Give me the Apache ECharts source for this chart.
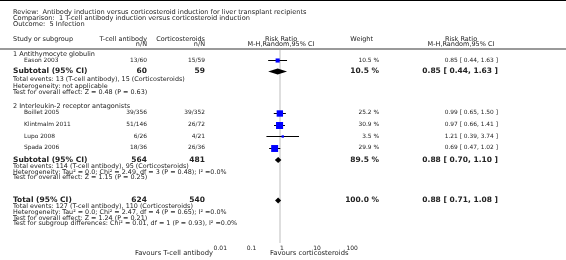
<!DOCTYPE html>
<html>
<head>
<meta charset="utf-8">
<script src="https://cdn.jsdelivr.net/npm/echarts@6/dist/echarts.min.js"></script>
<style>
  html, body { margin: 0; padding: 0; background: #fff; }
  #chart { width: 566px; height: 260px; }
</style>
</head>
<body>
<div id="chart"></div>
<script>
// data
const titleLines = [
  'Review:  Antibody induction versus corticosteroid induction for liver transplant recipients',
  'Comparison:  1 T-cell antibody induction versus corticosteroid induction',
  'Outcome:  5 Infection'
]
const groupNames = ['1 Antithymocyte globulin', '2 Interleukin-2 receptor antagonists']
const studies = ['Eason 2003', 'Boillet 2005', 'Klintmalm 2011', 'Lupo 2008', 'Spada 2006']
const tcellEvents = [13, 39, 51, 6, 18]
const tcellTotal = [60, 356, 146, 26, 36]
const corticoEvents = [15, 39, 26, 4, 26]
const corticoTotal = [59, 352, 72, 21, 36]
const studyWeight = [10.5, 25.2, 30.9, 3.5, 29.9]
const studyRR = [0.85, 0.99, 0.97, 1.21, 0.69]
const studyLow = [0.44, 0.65, 0.66, 0.39, 0.47]
const studyHigh = [1.63, 1.50, 1.41, 3.74, 1.02]

const subTcellN = [60, 564]
const subCorticoN = [59, 481]
const subTcellEvents = [13, 114]
const subCorticoEvents = [15, 95]
const subWeight = [10.5, 89.5]
const subRR = [0.85, 0.88]
const subLow = [0.44, 0.70]
const subHigh = [1.63, 1.10]
const subHetero = [
  'Heterogeneity: not applicable',
  'Heterogeneity: Tau\u00b2 = 0.0; Chi\u00b2 = 2.49, df = 3 (P = 0.48); I\u00b2 =0.0%'
]
const subTest = [
  'Test for overall effect: Z = 0.48 (P = 0.63)',
  'Test for overall effect: Z = 1.15 (P = 0.25)'
]

const totalTcellN = 624
const totalCorticoN = 540
const totalTcellEvents = 127
const totalCorticoEvents = 110
const totalWeight = 100.0
const totalRR = 0.88
const totalLow = 0.71
const totalHigh = 1.08
const totalHetero = 'Heterogeneity: Tau\u00b2 = 0.0; Chi\u00b2 = 2.47, df = 4 (P = 0.65); I\u00b2 =0.0%'
const totalTest = 'Test for overall effect: Z = 1.24 (P = 0.21)'
const subgroupTest = 'Test for subgroup differences: Chi\u00b2 = 0.01, df = 1 (P = 0.93), I\u00b2 =0.0%'

const axisTicks = [0.01, 0.1, 1, 10, 100]
const favoursLeft = 'Favours T-cell antibody'
const favoursRight = 'Favours corticosteroids'

// layout (pixel rows / columns)
const Y = {
  title: [12.5, 18, 24],
  head: [39, 44.5],
  sep: 49,
  group: [54, 106.5],
  study: [60, 112.5, 124.5, 136, 147.5],
  sub: [71.5, 160],
  subStats: [[79, 86, 92.5], [166.5, 172, 177.5]],
  total: 200.5,
  totalStats: [206.5, 212, 218, 223.5],
  axis: 243,
  favours: 253
}
const X = { left: 13, study: 24, tcell: 147, cortico: 205, plot: 281, weight: 379, ci: 498 }
const DECADE = 33.2
const ONE_X = 280

const FONT = '"DejaVu Sans", Verdana, sans-serif'
const INK = '#222'
const F = { title: 6.6, head: 6.5, row: 5.9, stats: 6.4, bold: 7.5, favours: 6.8, tick: 6 }

const graphics = []
function txt(x, y, s, size, align, bold) {
  graphics.push({
    type: 'text', x: x, y: y, silent: true,
    style: {
      text: s, fill: INK,
      font: (bold ? 'bold ' : '') + size + 'px ' + FONT,
      textAlign: align || 'left', textVerticalAlign: 'middle'
    }
  })
}
const ciText = (r, l, h) => r.toFixed(2) + ' [ ' + l.toFixed(2) + ', ' + h.toFixed(2) + ' ]'

titleLines.forEach((t, i) => txt(X.left, Y.title[i], t, F.title))

txt(X.left, Y.head[0], 'Study or subgroup', F.head)
txt(X.tcell, Y.head[0], 'T-cell antibody', F.head, 'right')
txt(X.tcell, Y.head[1], 'n/N', F.head, 'right')
txt(X.cortico, Y.head[0], 'Corticosteroids', F.head, 'right')
txt(X.cortico, Y.head[1], 'n/N', F.head, 'right')
txt(X.plot, Y.head[0], 'Risk Ratio', F.head, 'center')
txt(X.plot, Y.head[1], 'M-H,Random,95% CI', F.head, 'center')
txt(X.weight - 6, Y.head[0], 'Weight', F.head, 'right')
txt(461, Y.head[0], 'Risk Ratio', F.head, 'center')
txt(461, Y.head[1], 'M-H,Random,95% CI', F.head, 'center')

graphics.push({
  type: 'line', silent: true,
  shape: { x1: 0, y1: Y.sep, x2: 566, y2: Y.sep },
  style: { stroke: '#9a9a9a', lineWidth: 2 }
})

groupNames.forEach((g, gi) => {
  txt(X.left, Y.group[gi], g, F.head)
  txt(X.left, Y.sub[gi], 'Subtotal (95% CI)', F.bold, 'left', true)
  txt(X.tcell, Y.sub[gi], String(subTcellN[gi]), F.bold, 'right', true)
  txt(X.cortico, Y.sub[gi], String(subCorticoN[gi]), F.bold, 'right', true)
  txt(X.weight, Y.sub[gi], subWeight[gi].toFixed(1) + ' %', F.bold, 'right', true)
  txt(X.ci, Y.sub[gi], ciText(subRR[gi], subLow[gi], subHigh[gi]), F.bold, 'right', true)
  txt(X.left, Y.subStats[gi][0], 'Total events: ' + subTcellEvents[gi] + ' (T-cell antibody), ' + subCorticoEvents[gi] + ' (Corticosteroids)', F.stats)
  txt(X.left, Y.subStats[gi][1], subHetero[gi], F.stats)
  txt(X.left, Y.subStats[gi][2], subTest[gi], F.stats)
})

studies.forEach((s, i) => {
  const y = Y.study[i]
  txt(X.study, y, s, F.row)
  txt(X.tcell, y, tcellEvents[i] + '/' + tcellTotal[i], F.row, 'right')
  txt(X.cortico, y, corticoEvents[i] + '/' + corticoTotal[i], F.row, 'right')
  txt(X.weight, y, studyWeight[i].toFixed(1) + ' %', F.row, 'right')
  txt(X.ci, y, ciText(studyRR[i], studyLow[i], studyHigh[i]), F.row, 'right')
})

txt(X.left, Y.total, 'Total (95% CI)', F.bold, 'left', true)
txt(X.tcell, Y.total, String(totalTcellN), F.bold, 'right', true)
txt(X.cortico, Y.total, String(totalCorticoN), F.bold, 'right', true)
txt(X.weight, Y.total, totalWeight.toFixed(1) + ' %', F.bold, 'right', true)
txt(X.ci, Y.total, ciText(totalRR, totalLow, totalHigh), F.bold, 'right', true)
txt(X.left, Y.totalStats[0], 'Total events: ' + totalTcellEvents + ' (T-cell antibody), ' + totalCorticoEvents + ' (Corticosteroids)', F.stats)
txt(X.left, Y.totalStats[1], totalHetero, F.stats)
txt(X.left, Y.totalStats[2], totalTest, F.stats)
txt(X.left, Y.totalStats[3], subgroupTest, F.stats)

txt(213, Y.favours, favoursLeft, F.favours, 'right')
txt(270, Y.favours, favoursRight, F.favours, 'left')

// series data built from the arrays
const studyData = studies.map((s, i) => [
  Math.log10(studyRR[i]), Math.log10(studyLow[i]), Math.log10(studyHigh[i]), Y.study[i], studyWeight[i]
])
const diamondData = subRR.map((r, i) => [
  Math.log10(r), Math.log10(subLow[i]), Math.log10(subHigh[i]), Y.sub[i]
]).concat([[Math.log10(totalRR), Math.log10(totalLow), Math.log10(totalHigh), Y.total]])

const px = v => Math.round(v) + 0.5

const chart = echarts.init(document.getElementById('chart'), null, { renderer: 'canvas' })
chart.setOption({
  animation: false,
  textStyle: { fontFamily: FONT },
  grid: { left: 0, right: 0, top: 0, bottom: 260 - Y.axis, containLabel: false, outerBoundsMode: 'none' },
  xAxis: {
    type: 'value',
    min: -ONE_X / DECADE,
    max: (566 - ONE_X) / DECADE,
    splitLine: { show: false },
    axisLine: { lineStyle: { color: '#000', width: 1 } },
    axisTick: {
      inside: true, length: 3,
      customValues: axisTicks.map(Math.log10),
      lineStyle: { color: '#000' }
    },
    axisLabel: {
      customValues: axisTicks.map(Math.log10),
      formatter: v => String(Math.pow(10, v)),
      fontSize: F.tick, color: INK, align: 'left', margin: 2
    }
  },
  yAxis: { type: 'value', min: 0, max: Y.axis, inverse: true, show: false },
  graphic: graphics,
  series: [
    {
      // line of no effect
      type: 'custom',
      silent: true,
      data: [[0, Y.sep + 1, Y.axis]],
      renderItem: (params, api) => {
        const a = api.coord([api.value(0), api.value(1)])
        const b = api.coord([api.value(0), api.value(2)])
        return {
          type: 'line',
          shape: { x1: a[0], y1: a[1], x2: b[0], y2: b[1] },
          style: { stroke: '#dedede', lineWidth: 2 }
        }
      },
      z: 1
    },
    {
      type: 'custom',
      silent: true,
      data: studyData,
      renderItem: (params, api) => {
        const c = api.coord([api.value(0), api.value(3)])
        const lo = api.coord([api.value(1), api.value(3)])
        const hi = api.coord([api.value(2), api.value(3)])
        const side = 1.27 * Math.sqrt(api.value(4))
        return {
          type: 'group',
          children: [
            {
              type: 'line',
              shape: { x1: lo[0], y1: px(c[1]), x2: hi[0], y2: px(c[1]) },
              style: { stroke: '#000', lineWidth: 1 }
            },
            {
              type: 'rect',
              shape: { x: c[0] - side / 2, y: px(c[1]) - side / 2, width: side, height: side },
              style: { fill: '#0000ff' }
            }
          ]
        }
      },
      z: 3
    },
    {
      type: 'custom',
      silent: true,
      data: diamondData,
      renderItem: (params, api) => {
        const c = api.coord([api.value(0), api.value(3)])
        const lo = api.coord([api.value(1), api.value(3)])
        const hi = api.coord([api.value(2), api.value(3)])
        const h = 3
        return {
          type: 'polygon',
          shape: { points: [[lo[0], c[1]], [c[0], c[1] - h], [hi[0], c[1]], [c[0], c[1] + h]] },
          style: { fill: '#000' }
        }
      },
      z: 3
    }
  ]
})
</script>
</body>
</html>
